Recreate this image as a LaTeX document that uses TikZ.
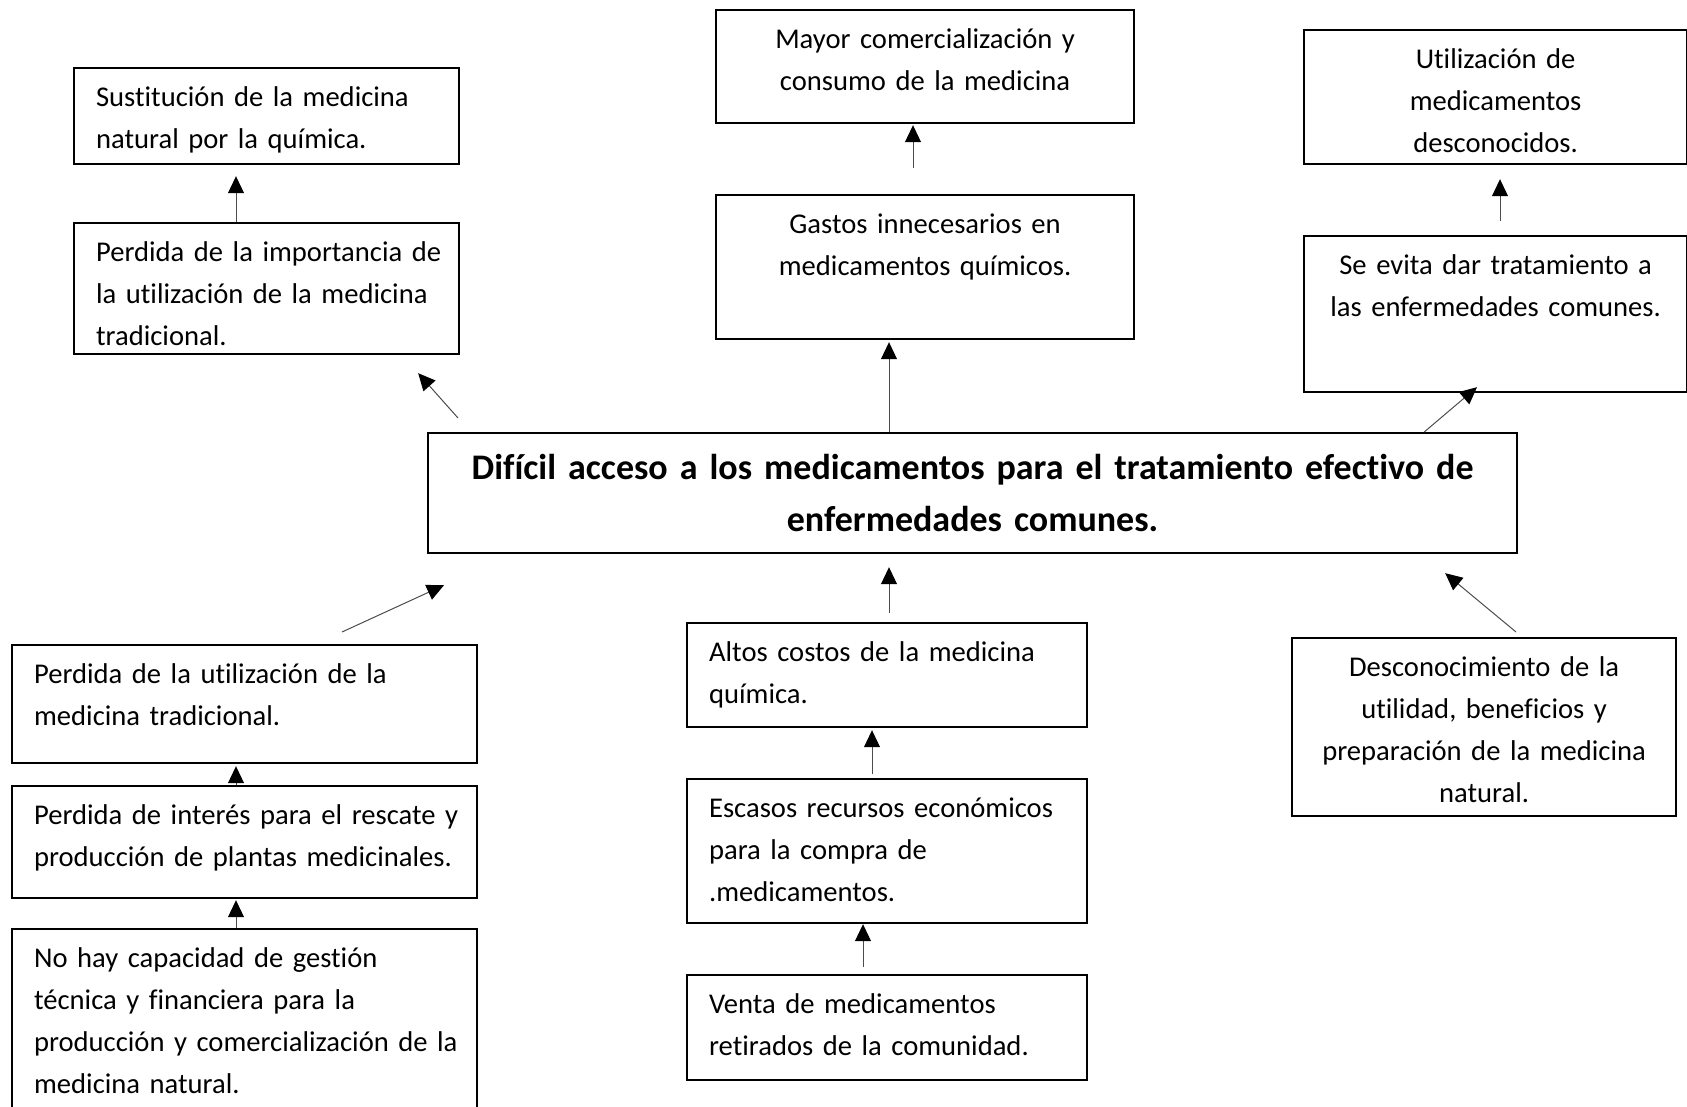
\documentclass[tikz,border=0pt]{standalone}
\usepackage{fontspec}
\setmainfont{Carlito}[Ligatures=NoCommon]
\usepackage{tikz}
\usetikzlibrary{arrows.meta}
\colorlet{linecol}{black!70}
\tikzstyle{box}=[draw=black, line width=1.1pt, anchor=north west, inner sep=0pt,
  text height=19pt, font=\fontsize{14.3}{21}\selectfont]
\tikzstyle{leftbox}=[box, execute at begin node={\raggedright\leftskip=11pt}]
\tikzstyle{midbox}=[box, align=center]
\tikzstyle{arrow}=[-{Triangle[length=8.5pt, width=8pt, color=black]}, line width=0.5pt, draw=linecol]

\begin{document}
\begin{tikzpicture}[x=0.5pt, y=-0.5pt]
  \useasboundingbox (0,0) rectangle (1687,1107);

  % efectos
  \node[leftbox, text width=192.5pt, text depth=29pt] (sust) at (73,67)
    {Sustitución de la medicina\\natural por la química.};
  \node[leftbox, text width=192.5pt, text depth=46.5pt] (imp) at (73,222)
    {Perdida de la importancia de\\la utilización de la medicina\\tradicional.};
  \node[midbox, text width=209pt, text depth=37.5pt] (mayor) at (715,9)
    {Mayor comercialización y\\consumo de la medicina};
  \node[midbox, text width=209pt, text depth=53pt] (gastos) at (715,194)
    {Gastos innecesarios en\\medicamentos químicos.};
  \node[midbox, text width=191.5pt, text depth=48pt] (util) at (1303,29)
    {Utilización de\\medicamentos\\desconocidos.};
  \node[midbox, text width=191.5pt, text depth=59pt] (evita) at (1303,235)
    {Se evita dar tratamiento a\\las enfermedades comunes.};

  % problema central
  \node[midbox, text width=544.5pt, text height=23pt, text depth=37pt,
    font=\bfseries\fontsize{18}{26}\selectfont] (prob) at (427,432)
    {Difícil acceso a los medicamentos para el tratamiento efectivo de\\enfermedades comunes.};

  % causas
  \node[leftbox, text width=232.5pt, text depth=40pt] (putil) at (11,644)
    {Perdida de la utilización de la\\medicina tradicional.};
  \node[leftbox, text width=232.5pt, text depth=37pt] (interes) at (11,785)
    {Perdida de interés para el rescate y\\producción de plantas medicinales.};
  \node[leftbox, text width=232.5pt, text depth=87pt] (gestion) at (11,928)
    {No hay capacidad de gestión\\técnica y financiera para la\\producción y comercialización de la\\medicina natural.};
  \node[leftbox, text width=200pt, text depth=33pt] (costos) at (686,622)
    {Altos costos de la medicina\\química.};
  \node[leftbox, text width=200pt, text depth=53pt] (escasos) at (686,778)
    {Escasos recursos económicos\\para la compra de\\.medicamentos.};
  \node[leftbox, text width=200pt, text depth=33.5pt] (venta) at (686,974)
    {Venta de medicamentos\\retirados de la comunidad.};
  \node[midbox, text width=192pt, text depth=70pt] (desc) at (1291,637)
    {Desconocimiento de la\\utilidad, beneficios y\\preparación de la medicina\\natural.};

  \draw[arrow] ([shift={(163,0)}]imp.north west) -- ([shift={(163,11)}]sust.south west);
  \draw[arrow] ([shift={(198,-26)}]gastos.north west) -- ([shift={(198,1)}]mayor.south west);
  \draw[arrow] ([shift={(197,-14)}]evita.north west) -- ([shift={(197,14)}]util.south west);
  \draw[arrow] ([shift={(462,0)}]prob.north west) -- ([shift={(174,2)}]gastos.south west);
  \draw[arrow] ([shift={(31,-14)}]prob.north west) -- ([shift={(-42,18)}]imp.south east);
  \draw[arrow] ([shift={(-94,0)}]prob.north east) -- ([shift={(174,-6)}]evita.south west);

  \draw[arrow] ([shift={(331,-12)}]putil.north west) -- ([shift={(17,31)}]prob.south west);
  \draw[arrow] ([shift={(203,-9)}]costos.north west) -- ([shift={(462,13)}]prob.south west);
  \draw[arrow] ([shift={(225,-5)}]desc.north west) -- ([shift={(-73,19)}]prob.south east);
  \draw[arrow] ([shift={(225,0)}]interes.north west) -- ([shift={(225,2)}]putil.south west);
  \draw[arrow] ([shift={(225,0)}]gestion.north west) -- ([shift={(225,1)}]interes.south west);
  \draw[arrow] ([shift={(186,-4)}]escasos.north west) -- ([shift={(186,2)}]costos.south west);
  \draw[arrow] ([shift={(177,-7)}]venta.north west) -- ([shift={(177,0)}]escasos.south west);
\end{tikzpicture}
\end{document}
